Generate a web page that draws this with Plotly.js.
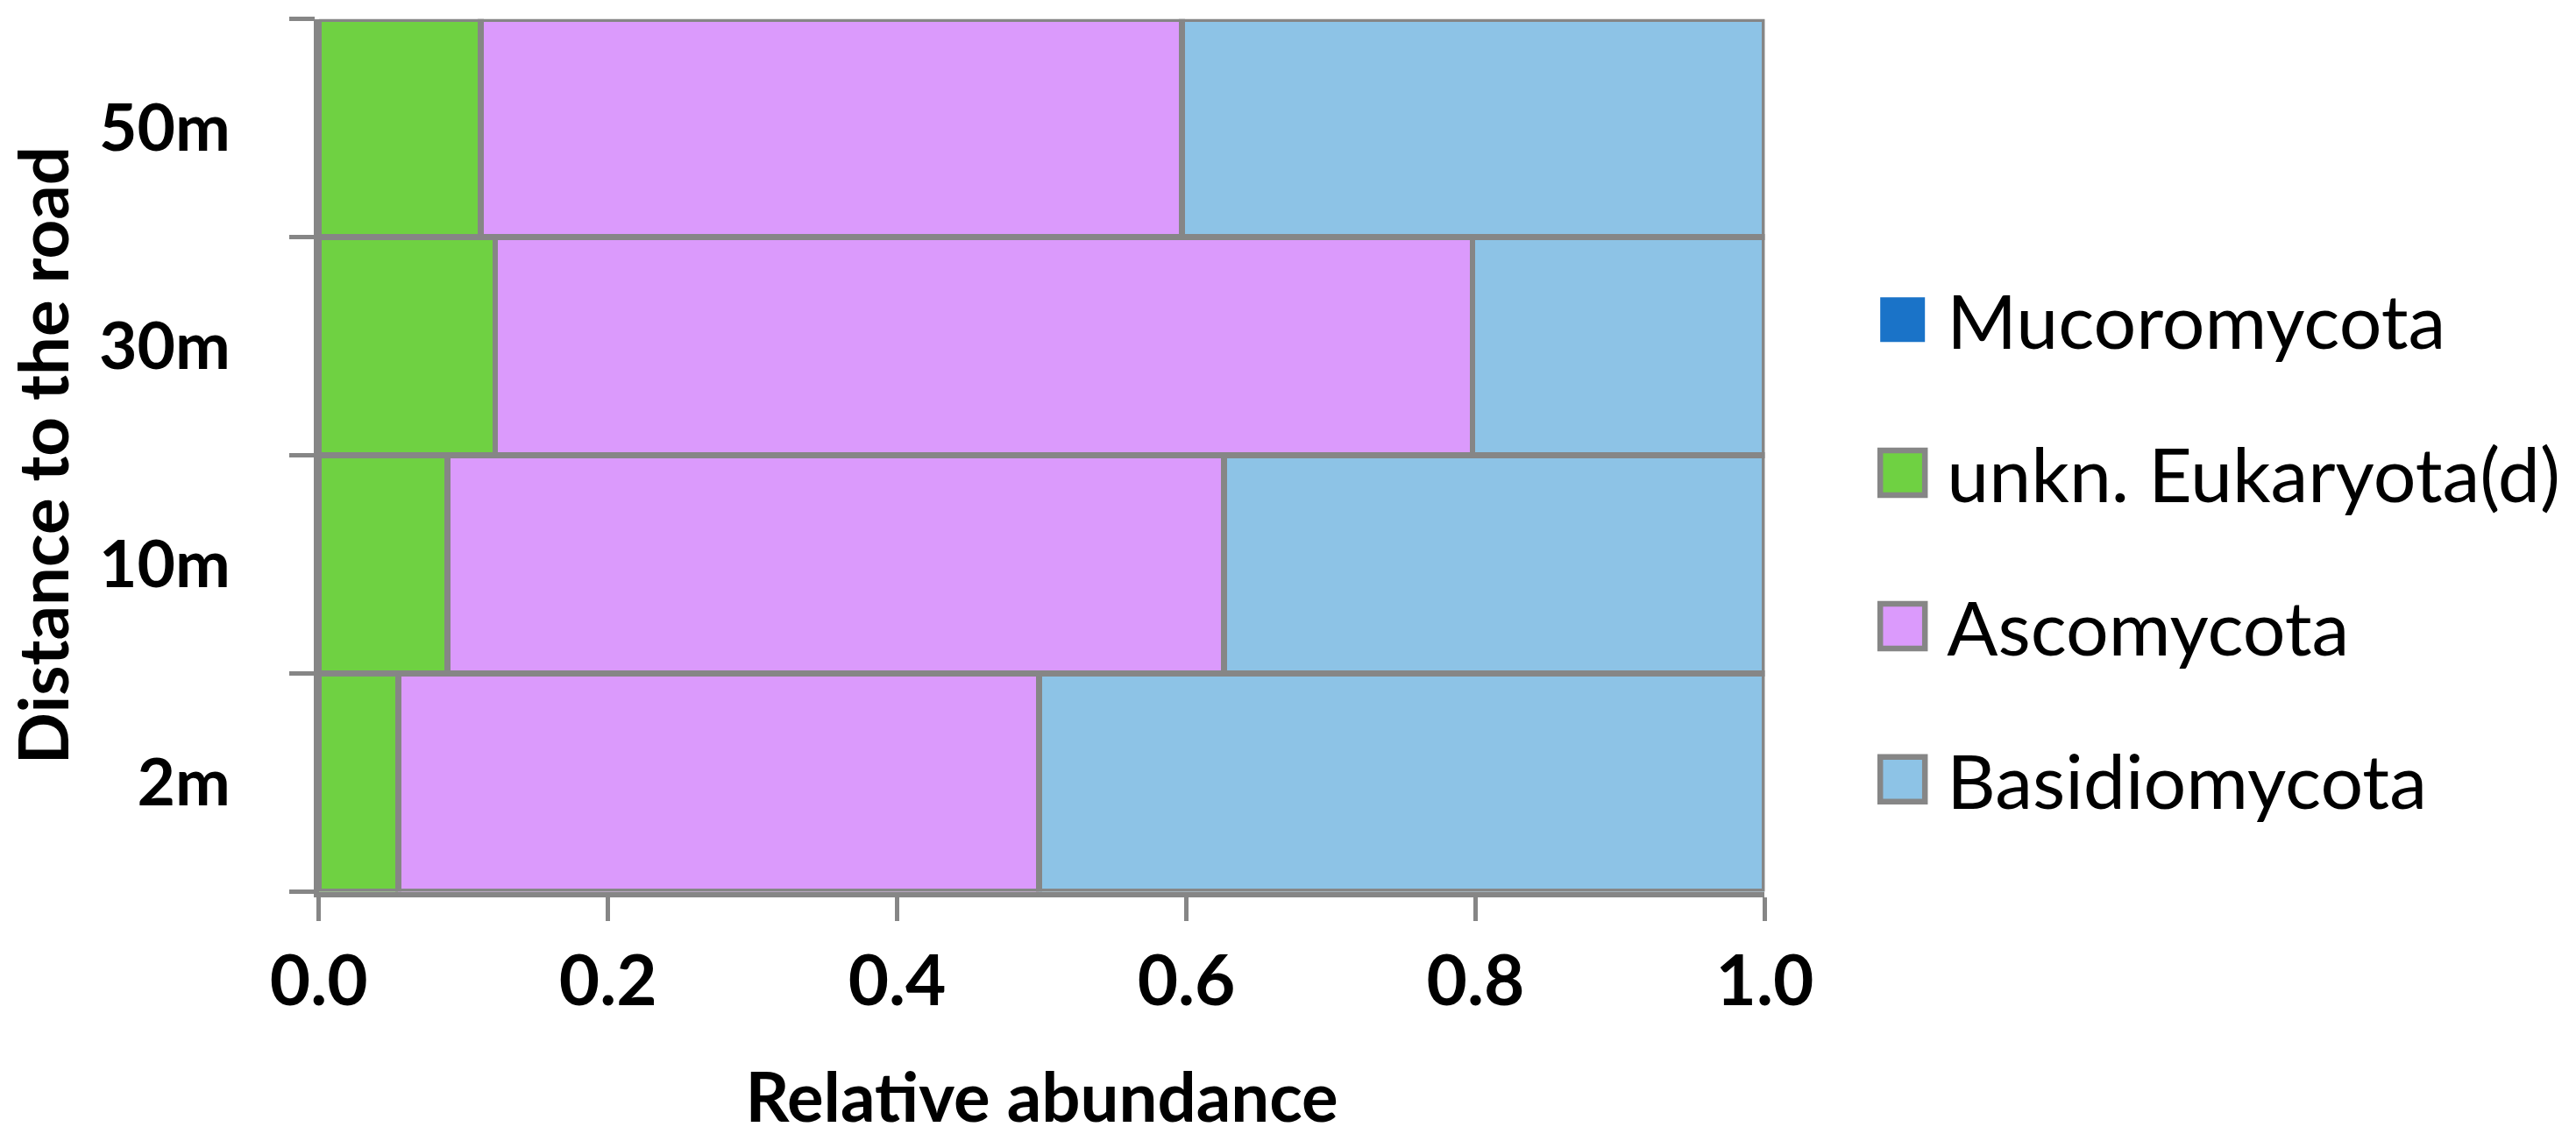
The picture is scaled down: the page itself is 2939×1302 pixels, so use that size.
<!DOCTYPE html>
<html><head><meta charset="utf-8">
<script src="https://cdn.plot.ly/plotly-3.0.1.min.js"></script>
<style>
html,body{margin:0;padding:0;background:#fff;overflow:hidden}
#wrap{width:2939px;height:1302px;overflow:hidden;position:relative}
#chart{transform-origin:0 0;position:absolute;left:0;top:0}
</style></head><body><div id="wrap"><div id="chart"></div></div>
<script>
// ---- data ----
const distances = ["2m", "10m", "30m", "50m"];
const seriesNames = ["Mucoromycota", "unkn. Eukaryota(d)", "Ascomycota", "Basidiomycota"];
const mucoromycota = [0, 0, 0, 0];
const unknEukaryota = [0.055, 0.089, 0.122, 0.112];
const ascomycota = [0.443, 0.537, 0.676, 0.485];
const basidiomycota = [0.502, 0.374, 0.202, 0.403];
const xTickVals = [0, 0.2, 0.4, 0.6, 0.8, 1.0];
const xTickText = ["0.0", "0.2", "0.4", "0.6", "0.8", "1.0"];
// category boundaries for the Excel-style y ticks (between categories)
const yBoundaries = [-0.5, 0.5, 1.5, 2.5, 3.5];

// ---- styling (real px divided by scale S) ----
const S = 4.33;
const W = 2939, H = 1302;
const p = v => v / S;
const FONT = "Lato, 'Open Sans', sans-serif";
const GRAY = "#868686";
const colors = ["#1A73C8", "#6FD142", "#DB9AFC", "#8DC3E6"];
const values = [mucoromycota, unknEukaryota, ascomycota, basidiomycota];
const BAR_LW = p(6.5);

const traces = values.map((v, i) => ({
  type: "bar",
  orientation: "h",
  name: seriesNames[i],
  legendgroup: "g" + i,
  y: distances,
  x: v,
  marker: {
    color: colors[i],
    line: { color: GRAY, width: i === 0 ? 0 : BAR_LW }
  },
  hoverinfo: "x+y+name"
}));
// carrier (draws nothing) so that the boundary-tick axis is rendered
traces.push({
  type: "scatter",
  mode: "markers",
  x: yBoundaries.map(() => null),
  y: yBoundaries,
  yaxis: "y2",
  showlegend: false,
  hoverinfo: "skip",
  marker: { opacity: 0 }
});

const layout = {
  width: W / S,
  height: H / S,
  paper_bgcolor: "#ffffff",
  plot_bgcolor: "#ffffff",
  barmode: "stack",
  bargap: 0,
  margin: { l: p(365), r: p(927), t: p(23), b: p(286), pad: 0, autoexpand: false },
  font: { family: FONT, color: "#000000" },
  showlegend: true,
  legend: {
    x: 1.021, xanchor: "left",
    y: 0.392, yanchor: "middle",
    traceorder: "grouped",
    tracegroupgap: p(50),
    font: { family: FONT, size: p(86), color: "#000" },
    bgcolor: "rgba(0,0,0,0)",
    borderwidth: 0
  },
  xaxis: {
    range: [0, 1],
    tickvals: xTickVals,
    ticktext: xTickText,
    ticks: "outside",
    ticklen: p(27),
    tickwidth: p(5),
    tickcolor: GRAY,
    showline: true,
    linecolor: GRAY,
    linewidth: p(6),
    showgrid: false,
    zeroline: false,
    ticklabelstandoff: p(40),
    tickfont: { family: FONT, size: p(80), weight: "bold", color: "#000" },
    title: { text: "Relative abundance", standoff: p(65),
             font: { family: FONT, size: p(78), weight: "bold", color: "#000" } },
    fixedrange: true
  },
  yaxis: {
    type: "category",
    categoryorder: "array",
    categoryarray: distances,
    range: [-0.5, 3.5],
    ticks: "outside",
    ticklen: p(80),
    tickwidth: p(1),
    tickcolor: "rgba(0,0,0,0)",
    showline: true,
    linecolor: GRAY,
    linewidth: p(6),
    showgrid: false,
    zeroline: false,
    tickfont: { family: FONT, size: p(75), weight: "bold", color: "#000" },
    title: { text: "Distance to the road", standoff: p(32),
             font: { family: FONT, size: p(78), weight: "bold", color: "#000" } },
    fixedrange: true
  },
  yaxis2: {
    overlaying: "y",
    anchor: "x",
    side: "left",
    range: [-0.5, 3.5],
    tickmode: "array",
    tickvals: yBoundaries,
    showticklabels: false,
    ticks: "outside",
    ticklen: p(29),
    tickwidth: p(5),
    tickcolor: GRAY,
    showline: false,
    showgrid: false,
    zeroline: false,
    fixedrange: true
  }
};

document.getElementById("chart").style.transform = "scale(" + S + ")";

function fixLegendIcons() {
  const gd = document.getElementById("chart");
  const target = p(51);
  const dx = p(36);
  gd.querySelectorAll("g.legendpoints path").forEach(path => {
    if (path.getAttribute("data-fixed")) return;
    let bb;
    try { bb = path.getBBox(); } catch (e) { return; }
    if (!bb || !bb.width) return;
    const k = target / bb.width;
    const t = path.getAttribute("transform") || "";
    path.setAttribute("transform", t + " translate(" + dx + ",0) scale(" + k + ")");
    const sw = parseFloat(path.style.strokeWidth || path.getAttribute("stroke-width") || "0");
    if (sw > 0) path.style.strokeWidth = (BAR_LW / k) + "px";
    path.setAttribute("data-fixed", "1");
  });
}

Plotly.newPlot("chart", traces, layout, { displayModeBar: false, staticPlot: true })
  .then(() => { fixLegendIcons(); setTimeout(fixLegendIcons, 50); setTimeout(fixLegendIcons, 400); });
</script></body></html>
